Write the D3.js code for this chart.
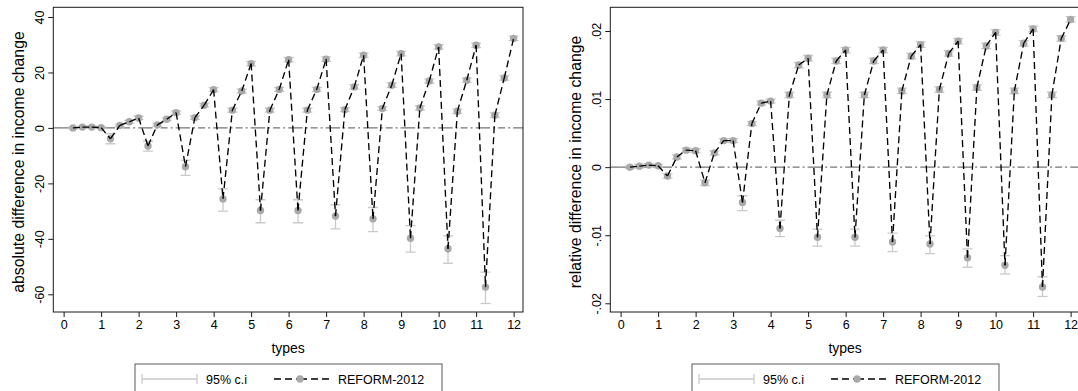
<!DOCTYPE html>
<html>
<head>
<meta charset="utf-8">
<script src="https://cdn.jsdelivr.net/npm/d3@7"></script>
<style>
  body { margin: 0; background: #fff; }
  svg { display: block; font-family: "Liberation Sans", Arial, Helvetica, sans-serif; }
</style>
</head>
<body>
<svg id="chart" width="1078" height="391"></svg>
<script>
// x positions of the 48 household types (4 sub-types per unit)
const types = [
  0.25, 0.5, 0.75, 1.0, 1.25, 1.5, 1.75, 2.0, 2.25, 2.5, 2.75, 3.0,
  3.25, 3.5, 3.75, 4.0, 4.25, 4.5, 4.75, 5.0, 5.25, 5.5, 5.75, 6.0,
  6.25, 6.5, 6.75, 7.0, 7.25, 7.5, 7.75, 8.0, 8.25, 8.5, 8.75, 9.0,
  9.25, 9.5, 9.75, 10.0, 10.25, 10.5, 10.75, 11.0, 11.25, 11.5, 11.75, 12.0
]
const xTicks = [0, 1, 2, 3, 4, 5, 6, 7, 8, 9, 10, 11, 12]

// absolute difference in income change
const absDiff = [
  0.0, 0.3, 0.3, 0.1, -3.9, 0.9, 2.2, 3.6, -6.5, 1.1, 3.1, 5.5,
  -14.0, 3.7, 8.2, 13.8, -25.6, 6.4, 13.3, 23.2, -29.8, 6.4, 13.9, 24.6,
  -29.8, 6.4, 13.9, 24.8, -31.8, 6.6, 14.8, 26.2, -32.8, 7.0, 15.4, 26.8,
  -39.8, 7.2, 16.9, 29.2, -43.6, 6.0, 17.2, 29.8, -57.4, 4.6, 18.0, 32.3
]
const absLo = [
  -0.3, -0.1, -0.1, -0.2, -5.7, 0.4, 1.7, 3.0, -8.4, 0.6, 2.6, 4.9,
  -17.1, 3.1, 7.6, 13.1, -30.0, 5.7, 12.6, 22.4, -34.2, 5.7, 13.2, 23.8,
  -34.2, 5.7, 13.2, 24.0, -36.4, 5.9, 14.0, 25.4, -37.4, 6.3, 14.6, 26.0,
  -44.8, 6.4, 16.1, 28.4, -48.8, 5.2, 16.4, 29.0, -63.3, 3.8, 17.2, 31.5
]
const absHi = [
  0.3, 0.7, 0.7, 0.4, -2.1, 1.4, 2.7, 4.2, -4.8, 1.6, 3.6, 6.1,
  -11.6, 4.3, 8.8, 14.5, -22.0, 7.1, 14.0, 24.0, -25.9, 7.1, 14.6, 25.4,
  -25.9, 7.1, 14.6, 25.6, -27.7, 7.3, 15.6, 27.0, -28.7, 7.7, 16.2, 27.6,
  -35.2, 8.0, 17.7, 30.0, -38.9, 6.8, 18.0, 30.6, -52.0, 5.4, 18.8, 33.1
]

// relative difference in income change
const relDiff = [
  0.0, 0.00015, 0.0003, 0.0002, -0.0013, 0.0015, 0.0025, 0.0024,
  -0.0023, 0.0021, 0.0039, 0.0039, -0.0052, 0.0064, 0.0094, 0.0097,
  -0.0090, 0.0106, 0.0150, 0.0160, -0.0103, 0.0106, 0.0156, 0.0172,
  -0.0103, 0.0106, 0.0156, 0.0172, -0.0110, 0.0112, 0.0163, 0.0180,
  -0.0113, 0.0114, 0.0167, 0.0185, -0.0133, 0.0117, 0.0178, 0.0198,
  -0.0144, 0.0112, 0.0182, 0.0203, -0.0176, 0.0106, 0.0189, 0.0217
]
const relLo = [
  -0.0002, -0.0001, 0.0001, 0.0, -0.0016, 0.0012, 0.0022, 0.0021,
  -0.0027, 0.0018, 0.0036, 0.0036, -0.0064, 0.0061, 0.0091, 0.0094,
  -0.0102, 0.0102, 0.0146, 0.0156, -0.0116, 0.0102, 0.0152, 0.0168,
  -0.0116, 0.0102, 0.0152, 0.0168, -0.0124, 0.0108, 0.0159, 0.0176,
  -0.0127, 0.0110, 0.0163, 0.0181, -0.0147, 0.0113, 0.0174, 0.0194,
  -0.0157, 0.0108, 0.0178, 0.0199, -0.0190, 0.0102, 0.0185, 0.0213
]
const relHi = [
  0.0002, 0.0004, 0.0005, 0.0004, -0.0010, 0.0018, 0.0028, 0.0027,
  -0.0019, 0.0024, 0.0042, 0.0042, -0.0042, 0.0067, 0.0097, 0.0100,
  -0.0078, 0.0110, 0.0154, 0.0164, -0.0091, 0.0110, 0.0160, 0.0176,
  -0.0091, 0.0110, 0.0160, 0.0176, -0.0097, 0.0116, 0.0167, 0.0184,
  -0.0101, 0.0118, 0.0171, 0.0189, -0.0120, 0.0121, 0.0182, 0.0202,
  -0.0130, 0.0116, 0.0186, 0.0207, -0.0161, 0.0110, 0.0193, 0.0221
]

const absTicks = [40, 20, 0, -20, -40, -60]
const absTickLabels = ['40', '20', '0', '-20', '-40', '-60']
const relTicks = [0.02, 0.01, 0, -0.01, -0.02]
const relTickLabels = ['.02', '.01', '0', '-.01', '-.02']

const legendLabels = ['95% c.i', 'REFORM-2012']

const colors = {
  frame: '#1a1a1a',
  dot: '#a9a9a9',
  ci: '#c9c9c9',
  line: '#000',
  zero: '#747474',
  legendBorder: '#5a5a5a'
}

const FONT = '"Liberation Sans", Arial, sans-serif'
const svg = d3.select('#chart')

// Stata restarts a line pattern at every vertex, so each segment is its own path.
function dashedSegments(sel, pairs, x, y, dash, stroke, width) {
  sel.selectAll(null).data(pairs).enter().append('line')
    .attr('x1', d => x(d[0].t)).attr('y1', d => y(d[0].v))
    .attr('x2', d => x(d[1].t)).attr('y2', d => y(d[1].v))
    .attr('stroke', stroke)
    .attr('stroke-width', width)
    .attr('stroke-dasharray', dash)
}

function drawPanel(opts) {
  const g = svg.append('g').attr('transform', `translate(${opts.dx},0)`)
  const frame = { left: 53.3, right: 523, top: 7.3, bottom: 312 }

  const x = d3.scaleLinear().domain([-0.275, 12.25]).range([frame.left, frame.right])
  const y = d3.scaleLinear().domain(opts.yDomain).range(opts.yRange)

  const clipId = 'clip' + opts.id
  g.append('clipPath').attr('id', clipId)
    .append('rect')
    .attr('x', frame.left).attr('y', frame.top)
    .attr('width', frame.right - frame.left).attr('height', frame.bottom - frame.top)

  const plot = g.append('g').attr('clip-path', `url(#${clipId})`)

  // zero reference line, dash-dot, pattern restarting at each whole type
  const xMin = x.invert(frame.left), xMax = x.invert(frame.right)
  const zeroKnots = [xMin, ...xTicks, xMax].map(t => ({ t, v: 0 }))
  dashedSegments(plot.append('g'), d3.pairs(zeroKnots), x, y,
    '14,3,2,3,7,3,2,3', colors.zero, 1.4)

  const pts = types.map((t, i) => ({ t, v: opts.values[i], lo: opts.lo[i], hi: opts.hi[i] }))

  // confidence intervals with caps
  const ci = plot.append('g').attr('stroke', colors.ci).attr('stroke-width', 1.3)
  ci.selectAll('line.ci').data(pts).enter().append('line')
    .attr('x1', d => x(d.t)).attr('x2', d => x(d.t))
    .attr('y1', d => y(d.lo)).attr('y2', d => y(d.hi))
  ci.selectAll('line.caplo').data(pts).enter().append('line')
    .attr('x1', d => x(d.t) - 5).attr('x2', d => x(d.t) + 5)
    .attr('y1', d => y(d.lo)).attr('y2', d => y(d.lo))
  ci.selectAll('line.caphi').data(pts).enter().append('line')
    .attr('x1', d => x(d.t) - 5).attr('x2', d => x(d.t) + 5)
    .attr('y1', d => y(d.hi)).attr('y2', d => y(d.hi))

  // markers, then the dashed connecting line on top
  plot.selectAll('circle.dot').data(pts).enter().append('circle')
    .attr('cx', d => x(d.t)).attr('cy', d => y(d.v))
    .attr('r', 3.7)
    .attr('fill', colors.dot)

  dashedSegments(plot.append('g'), d3.pairs(pts), x, y, '7,4', colors.line, 1.35)

  // frame
  g.append('rect')
    .attr('x', frame.left).attr('y', frame.top)
    .attr('width', frame.right - frame.left).attr('height', frame.bottom - frame.top)
    .attr('fill', 'none')
    .attr('stroke', colors.frame)
    .attr('stroke-width', 1)

  // x axis
  const xAxis = g.append('g').attr('transform', `translate(0,${frame.bottom})`)
    .call(d3.axisBottom(x).tickValues(xTicks).tickSize(5).tickPadding(3).tickFormat(d3.format('d')))
  xAxis.select('.domain').remove()
  xAxis.selectAll('line').attr('stroke', colors.frame)
  xAxis.selectAll('text').attr('font-size', 12.5).attr('fill', '#000').attr('font-family', FONT)

  // y axis, labels rotated like Stata
  const yAxis = g.append('g').attr('transform', `translate(${frame.left},0)`)
    .call(d3.axisLeft(y).tickValues(opts.ticks).tickSize(5)
      .tickFormat((d, i) => opts.tickLabels[i]))
  yAxis.select('.domain').remove()
  yAxis.selectAll('line').attr('stroke', colors.frame)
  yAxis.selectAll('text')
    .attr('font-size', 12.5).attr('fill', '#000').attr('font-family', FONT)
    .attr('x', null).attr('dy', null)
    .attr('text-anchor', 'middle')
    .attr('transform', 'translate(-9,0) rotate(-90)')

  g.append('text')
    .attr('x', (frame.left + frame.right) / 2)
    .attr('y', 353)
    .attr('text-anchor', 'middle')
    .attr('font-size', 14)
    .text('types')

  g.append('text')
    .attr('transform', `translate(23.5,162) rotate(-90)`)
    .attr('text-anchor', 'middle')
    .attr('font-size', 15.8)
    .text(opts.yTitle)

  // legend
  const lg = g.append('g').attr('transform', 'translate(135,364)')
  lg.append('rect')
    .attr('x', 0).attr('y', 0).attr('width', 307).attr('height', 40)
    .attr('fill', '#fff').attr('stroke', colors.legendBorder).attr('stroke-width', 1)
  const ly = 15
  lg.append('line').attr('x1', 7).attr('x2', 62).attr('y1', ly).attr('y2', ly)
    .attr('stroke', colors.ci).attr('stroke-width', 1.3)
  lg.append('line').attr('x1', 7).attr('x2', 7).attr('y1', ly - 5).attr('y2', ly + 5)
    .attr('stroke', colors.ci).attr('stroke-width', 1.3)
  lg.append('line').attr('x1', 62).attr('x2', 62).attr('y1', ly - 5).attr('y2', ly + 5)
    .attr('stroke', colors.ci).attr('stroke-width', 1.3)
  lg.append('text').attr('x', 71).attr('y', ly + 4.7).attr('font-size', 12.5).text(legendLabels[0])
  const legPts = [{ t: 139, v: ly }, { t: 165, v: ly }, { t: 194, v: ly }]
  dashedSegments(lg, d3.pairs(legPts), d => d, d => d, '7,4', colors.line, 1.3)
  lg.append('circle').attr('cx', 165).attr('cy', ly).attr('r', 3.7).attr('fill', colors.dot)
  lg.append('text').attr('x', 203).attr('y', ly + 4.7).attr('font-size', 12.5).text(legendLabels[1])
}

drawPanel({
  id: 'abs', dx: 0,
  values: absDiff, lo: absLo, hi: absHi,
  yDomain: [40, -60], yRange: [17, 294.3],
  ticks: absTicks, tickLabels: absTickLabels,
  yTitle: 'absolute difference in income change'
})

drawPanel({
  id: 'rel', dx: 557,
  values: relDiff, lo: relLo, hi: relHi,
  yDomain: [0.02, -0.02], yRange: [31, 303.3],
  ticks: relTicks, tickLabels: relTickLabels,
  yTitle: 'relative difference in income change'
})
</script>
</body>
</html>
